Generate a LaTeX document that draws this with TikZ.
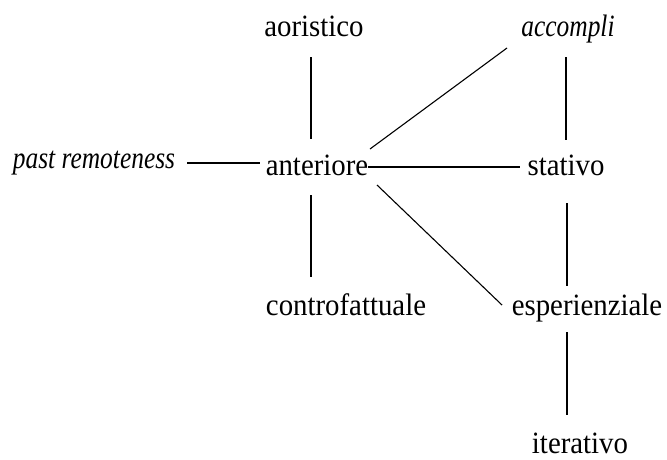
\documentclass[tikz,border=0pt]{standalone}
\usepackage{fontspec}
\setmainfont{Liberation Serif}[FakeStretch=0.93]
\newfontfamily\myitfont{Liberation Serif Italic}[FakeStretch=0.82]
\usetikzlibrary{calc}
\begin{document}
\begin{tikzpicture}[x=1pt,y=-1pt,
  lbl/.style={anchor=base,inner sep=0pt,font=\fontsize{31}{36}\selectfont},
  itlbl/.style={anchor=base,inner sep=0pt,font=\fontsize{31}{36}\myitfont},
  conn/.style={line width=1.1pt,black}]
\useasboundingbox (0,0) rectangle (667,459);
\node[lbl] (aor) at (314,36) {aoristico};
\node[itlbl] (acc) at (568,36) {accompli};
\node[itlbl] (past) at (94,168) {past remoteness};
\node[lbl] (ant) at (317,175) {anteriore};
\node[lbl] (sta) at (566,175) {stativo};
\node[lbl] (con) at (346,315) {controfattuale};
\node[lbl] (esp) at (587,315) {esperienziale};
\node[lbl] (ite) at (580,453) {iterativo};
\draw[conn] ($(aor.base)+(-3,21)$) -- ($(ant.base)+(-6,-36)$);
\draw[conn] ($(acc.base)+(-61,12)$) -- ($(ant.base)+(53,-26)$);
\draw[conn] ($(past.base)+(93,-5)$) -- ($(ant.base)+(-57,-12)$);
\draw[conn] ($(ant.base)+(51,-8)$) -- ($(sta.base)+(-46,-8)$);
\draw[conn] ($(acc.base)+(-2,21)$) -- ($(sta.base)+(0,-35)$);
\draw[conn] ($(ant.base)+(-6,20)$) -- ($(con.base)+(-35,-38)$);
\draw[conn] ($(ant.base)+(60,10)$) -- ($(esp.base)+(-85,-10)$);
\draw[conn] ($(sta.base)+(1,28)$) -- ($(esp.base)+(-20,-29)$);
\draw[conn] ($(esp.base)+(-20,17)$) -- ($(ite.base)+(-13,-38)$);
\end{tikzpicture}
\end{document}
